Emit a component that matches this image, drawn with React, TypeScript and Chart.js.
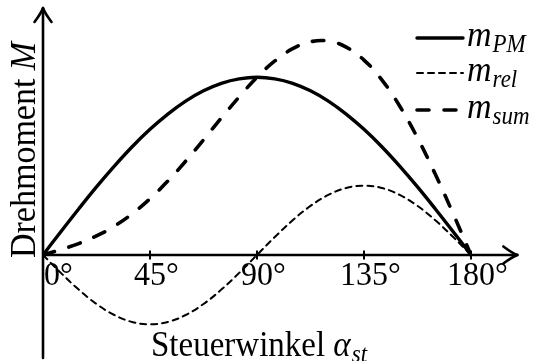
import { useEffect, useRef } from "react";
import { Chart, registerables } from "chart.js";

Chart.register(...registerables);

// Steuerwinkel in Grad
const angles = [
  0, 7.5, 15, 22.5, 30, 37.5, 45, 52.5, 60, 67.5, 75, 82.5, 90,
  97.5, 105, 112.5, 120, 127.5, 135, 142.5, 150, 157.5, 165, 172.5, 180,
];

// Drehmomentanteile (normiert auf das Maximum von m_PM)
const mPM = [
  0, 0.131, 0.259, 0.383, 0.5, 0.609, 0.707, 0.793, 0.866, 0.924, 0.966, 0.991, 1.0,
  0.991, 0.966, 0.924, 0.866, 0.793, 0.707, 0.609, 0.5, 0.383, 0.259, 0.131, 0,
];
const mRel = [
  0, -0.101, -0.195, -0.276, -0.338, -0.377, -0.39, -0.377, -0.338, -0.276, -0.195, -0.101, 0,
  0.101, 0.195, 0.276, 0.338, 0.377, 0.39, 0.377, 0.338, 0.276, 0.195, 0.101, 0,
];
const mSum = [
  0, 0.03, 0.064, 0.107, 0.162, 0.232, 0.317, 0.416, 0.528, 0.648, 0.771, 0.89, 1.0,
  1.092, 1.161, 1.2, 1.204, 1.17, 1.097, 0.986, 0.838, 0.659, 0.454, 0.232, 0,
];

const tickAngles = [0, 45, 90, 135, 180];
const tickLabels = ["0°", "45°", "90°", "135°", "180°"];

const seriesBase = ["m", "m", "m"];
const seriesSub = ["PM", "rel", "sum"];

const xTitleText = "Steuerwinkel ";
const xTitleSymbol = "α";
const xTitleSub = "st";
const yTitleText = "Drehmoment ";
const yTitleSymbol = "M";

const FONT = '"Liberation Serif", "Times New Roman", serif';
const SIZE = 33;
const TICK_SIZE = 32;
const SUB_SIZE = 23;
const STRETCH = 1.06;

function drawSymbol(ctx: CanvasRenderingContext2D, base: string, sub: string, x: number, y: number, size = SIZE) {
  ctx.font = `italic ${size}px ${FONT}`;
  ctx.fillText(base, x, y);
  const w = ctx.measureText(base).width;
  if (sub) {
    ctx.font = `italic ${SUB_SIZE}px ${FONT}`;
    ctx.fillText(sub, x + w + 1, y + 6);
  }
}

// draw text with a slight vertical stretch around its baseline
function stretched(ctx: CanvasRenderingContext2D, x: number, y: number, draw: () => void) {
  ctx.save();
  ctx.translate(x, y);
  ctx.scale(1, STRETCH);
  draw();
  ctx.restore();
}

function arrowHead(ctx: CanvasRenderingContext2D, tx: number, ty: number, dx: number, dy: number) {
  // open LaTeX-style arrow tip pointing in direction (dx, dy)
  const back = 14;
  const half = 8.5;
  const px = -dy;
  const py = dx;
  ctx.beginPath();
  for (const s of [1, -1]) {
    const ex = tx - dx * back + px * half * s;
    const ey = ty - dy * back + py * half * s;
    const cx = tx - dx * back * 0.35 + px * half * 0.2 * s;
    const cy = ty - dy * back * 0.35 + py * half * 0.2 * s;
    ctx.moveTo(ex, ey);
    ctx.quadraticCurveTo(cx, cy, tx, ty);
  }
  ctx.stroke();
}

const axesPlugin = {
  id: "axesPlugin",
  beforeDatasetsDraw(chart: any) {
    const { ctx, chartArea, scales } = chart;
    const xs = scales.x;
    const ys = scales.y;
    const x0 = xs.getPixelForValue(0);
    const y0 = ys.getPixelForValue(0);
    const xEnd = xs.getPixelForValue(199.5);
    ctx.save();
    ctx.strokeStyle = "#000";
    ctx.lineWidth = 2.6;
    ctx.lineCap = "round";
    ctx.lineJoin = "round";
    ctx.beginPath();
    ctx.moveTo(x0, chartArea.bottom);
    ctx.lineTo(x0, chartArea.top);
    ctx.moveTo(x0, y0);
    ctx.lineTo(xEnd, y0);
    ctx.stroke();
    arrowHead(ctx, x0, chartArea.top, 0, -1);
    arrowHead(ctx, xEnd, y0, 1, 0);
    ctx.lineWidth = 2;
    ctx.lineCap = "butt";
    ctx.beginPath();
    tickAngles.slice(1).forEach((a) => {
      const px = xs.getPixelForValue(a);
      ctx.moveTo(px, y0 - 4.5);
      ctx.lineTo(px, y0 + 4.5);
    });
    ctx.stroke();
    ctx.restore();
  },
  afterDraw(chart: any) {
    const { ctx, scales } = chart;
    const xs = scales.x;
    ctx.save();
    ctx.fillStyle = "#000";
    ctx.textBaseline = "alphabetic";
    ctx.textAlign = "left";

    // tick labels
    ctx.font = `${TICK_SIZE}px ${FONT}`;
    tickAngles.forEach((a, i) => {
      const label = tickLabels[i];
      const digits = label.replace("°", "");
      const w = ctx.measureText(digits).width;
      const px = xs.getPixelForValue(a);
      const x = i === 0 ? px + 1 : px - w / 2;
      stretched(ctx, x, 285, () => {
        ctx.font = `${TICK_SIZE}px ${FONT}`;
        ctx.fillText(label, 0, 0);
      });
    });

    // x title
    stretched(ctx, 151, 356, () => {
      ctx.font = `${SIZE}px ${FONT}`;
      ctx.fillText(xTitleText, 0, 0);
      const wx = ctx.measureText(xTitleText).width;
      drawSymbol(ctx, xTitleSymbol, xTitleSub, wx, 0);
    });

    // y title
    ctx.save();
    ctx.translate(35, 258);
    ctx.rotate(-Math.PI / 2);
    ctx.scale(1.03, STRETCH);
    ctx.font = `${SIZE}px ${FONT}`;
    ctx.fillText(yTitleText, 0, 0);
    const wy = ctx.measureText(yTitleText).width;
    drawSymbol(ctx, yTitleSymbol, "", wy, 0);
    ctx.restore();

    // legend
    const rows = [38, 73, 110];
    chart.data.datasets.forEach((ds: any, i: number) => {
      const y = rows[i];
      ctx.save();
      ctx.strokeStyle = ds.borderColor;
      ctx.lineWidth = ds.borderWidth;
      ctx.lineCap = ds.borderCapStyle;
      ctx.setLineDash(ds.borderDash || []);
      ctx.beginPath();
      ctx.moveTo(417, y);
      ctx.lineTo(463, y);
      ctx.stroke();
      ctx.restore();
      stretched(ctx, 467, y + 8, () => drawSymbol(ctx, seriesBase[i], seriesSub[i], 0, 0, 34));
    });
    ctx.restore();
  },
};

export default function App() {
  const canvasRef = useRef<HTMLCanvasElement | null>(null);

  useEffect(() => {
    const canvas = canvasRef.current;
    if (!canvas) return;
    const toPoints = (vals: number[]) => angles.map((a, i) => ({ x: a, y: vals[i] }));
    const chart = new Chart(canvas, {
      type: "line",
      data: {
        datasets: [
          {
            label: "m_PM",
            data: toPoints(mPM),
            borderColor: "#000",
            borderWidth: 3.4,
            borderCapStyle: "round",
            borderDash: [],
          },
          {
            label: "m_rel",
            data: toPoints(mRel),
            borderColor: "#000",
            borderWidth: 2,
            borderCapStyle: "round",
            borderDash: [6, 5],
          },
          {
            label: "m_sum",
            data: toPoints(mSum),
            borderColor: "#000",
            borderWidth: 3.6,
            borderCapStyle: "round",
            borderDash: [12, 15],
          },
        ] as any,
      },
      options: {
        responsive: false,
        animation: false,
        devicePixelRatio: 1,
        layout: { padding: { left: 43, right: 71, top: 8, bottom: 3 } },
        elements: {
          point: { radius: 0 },
          line: { tension: 0.4, fill: false },
        },
        scales: {
          x: { type: "linear", min: 0, max: 180, display: false },
          y: { type: "linear", min: -0.58, max: 1.39, display: false },
        },
        plugins: {
          legend: { display: false },
          tooltip: { enabled: false },
        },
      },
      plugins: [axesPlugin],
    });
    return () => chart.destroy();
  }, []);

  return (
    <div style={{ position: "fixed", left: 0, top: 0, width: 542, height: 361, background: "#fff" }}>
      <canvas ref={canvasRef} width={542} height={361} style={{ display: "block" }} />
    </div>
  );
}
